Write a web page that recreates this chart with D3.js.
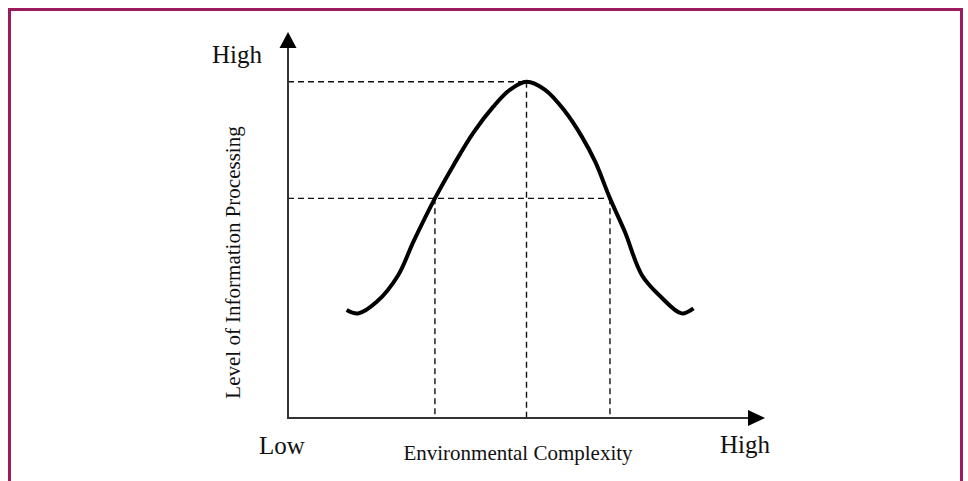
<!DOCTYPE html>
<html>
<head>
<meta charset="utf-8">
<script src="https://cdn.jsdelivr.net/npm/d3@7"></script>
<style>
  html, body { margin: 0; padding: 0; background: #fff; }
  svg { display: block; }
  text { font-family: "Liberation Serif", "Times New Roman", serif; fill: #111; }
</style>
</head>
<body>
<script>
var width = 968,
    height = 481;

// curve: environmental complexity (x) vs information processing level (y), 0-100 scale
var curveX = [12.3, 14.7, 18.6, 23.1, 26.3, 30.8, 34.7, 38.8, 43.0, 46.5, 50.0, 53.9, 58.1, 61.6, 64.4, 67.5, 70.6, 74.2, 78.0, 82.5, 85.0];
var curveY = [28.0, 27.1, 30.1, 37.0, 45.7, 56.9, 65.5, 73.8, 80.6, 85.0, 87.1, 85.0, 79.4, 72.9, 66.4, 56.9, 48.3, 37.0, 31.6, 27.1, 28.4];

// reference levels (dashed)
var peak = { x: 50.0, y: 87.1 };
var midLevel = 56.9;
var midCross = [30.8, 67.5];

var axisLabels = { yHigh: "High", xLow: "Low", xHigh: "High" };
var xTitle = "Environmental Complexity",
    yTitle = "Level of Information Processing";

var svg = d3.select("body")
    .append("svg")
    .attr("width", width)
    .attr("height", height);

// frame
svg.append("rect")
    .attr("x", 9.5)
    .attr("y", 9.5)
    .attr("width", 952)
    .attr("height", 490)
    .attr("fill", "none")
    .attr("stroke", "#9b1b5f")
    .attr("stroke-width", 3);

var x = d3.scaleLinear().domain([0, 100]).range([288, 765]);
var y = d3.scaleLinear().domain([0, 100]).range([418, 32]);

// dashed guides
var dash = svg.append("g")
    .attr("stroke", "#111")
    .attr("stroke-width", 1.4)
    .attr("stroke-dasharray", "6,4")
    .attr("fill", "none");

dash.append("line")
    .attr("x1", x(0)).attr("x2", x(peak.x))
    .attr("y1", y(peak.y)).attr("y2", y(peak.y));
dash.append("line")
    .attr("x1", x(peak.x)).attr("x2", x(peak.x))
    .attr("y1", y(peak.y)).attr("y2", y(0));
dash.append("line")
    .attr("x1", x(0)).attr("x2", x(midCross[1]))
    .attr("y1", y(midLevel)).attr("y2", y(midLevel));
midCross.forEach(function (d) {
    dash.append("line")
        .attr("x1", x(d)).attr("x2", x(d))
        .attr("y1", y(midLevel)).attr("y2", y(0));
});

// axes with arrowheads
var axes = svg.append("g");
axes.append("line")
    .attr("x1", x(0)).attr("y1", y(0))
    .attr("x2", x(0)).attr("y2", y(100) + 14)
    .attr("stroke", "#333").attr("stroke-width", 2);
axes.append("line")
    .attr("x1", x(0) - 1).attr("y1", y(0))
    .attr("x2", x(100) - 14).attr("y2", y(0))
    .attr("stroke", "#333").attr("stroke-width", 2);
axes.append("path")
    .attr("d", "M" + x(0) + "," + y(100) + "l-8.5,16h17z")
    .attr("fill", "#000");
axes.append("path")
    .attr("d", "M" + x(100) + "," + y(0) + "l-17,-8h0v16z")
    .attr("fill", "#000");

// curve
var pts = curveX.map(function (d, i) { return [d, curveY[i]]; });
var line = d3.line()
    .x(function (d) { return x(d[0]); })
    .y(function (d) { return y(d[1]); })
    .curve(d3.curveCatmullRom.alpha(0.5));

svg.append("path")
    .datum(pts)
    .attr("d", line)
    .attr("fill", "none")
    .attr("stroke", "#000")
    .attr("stroke-width", 4)
    .attr("stroke-linejoin", "round");

// labels
svg.append("text")
    .attr("x", 262).attr("y", 63)
    .attr("text-anchor", "end")
    .style("font-size", "25px")
    .text(axisLabels.yHigh);
svg.append("text")
    .attr("x", 259).attr("y", 454)
    .style("font-size", "25px")
    .text(axisLabels.xLow);
svg.append("text")
    .attr("x", 720).attr("y", 453)
    .style("font-size", "25px")
    .text(axisLabels.xHigh);
svg.append("text")
    .attr("x", 518).attr("y", 460)
    .attr("text-anchor", "middle")
    .style("font-size", "21px")
    .text(xTitle);
svg.append("text")
    .attr("transform", "translate(240,262.5) rotate(-90)")
    .attr("text-anchor", "middle")
    .style("font-size", "21px")
    .text(yTitle);
</script>
</body>
</html>
